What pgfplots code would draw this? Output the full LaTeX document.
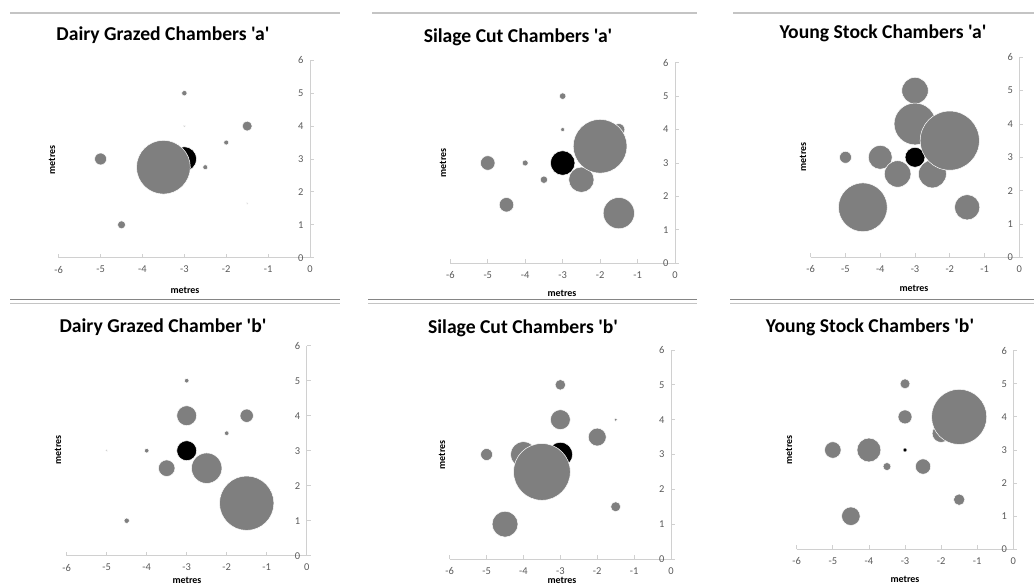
\documentclass[border=0pt]{standalone}
\usepackage{pgfplots}
\pgfplotsset{compat=1.18}
\usepackage{fontspec}
\setmainfont{Carlito}[Ligatures=TeXOff]
\definecolor{bub}{HTML}{7F7F7F}
\definecolor{axg}{HTML}{D0D0D0}
\definecolor{tkl}{HTML}{595959}
\definecolor{lnd}{HTML}{858585}
\definecolor{lnl}{HTML}{C4C4C4}
\pgfplotsset{
 bubax/.style={
  scale only axis, anchor=south west,
  xmin=-6, xmax=0, ymin=0, ymax=6,
  axis lines=middle,
  axis line style={draw=axg, line width=0.8pt, -},
  xtick={-6,-5,...,0}, ytick={0,1,...,6},
  tick style={draw=axg, line width=0.8pt},
  major tick length=4pt,
  tick align=inside,
  hide obscured x ticks=false, hide obscured y ticks=false,
  ticklabel style={font=\fontsize{10.5}{12}\selectfont, text=tkl},
  xticklabel style={yshift=-5pt},
  yticklabel style={xshift=-3pt},
  /pgf/number format/assume math mode=true,
  clip=false,
 },
 bubg/.style={scatter, only marks, mark=*, line width=0.5pt,
  scatter/use mapped color={draw=white, fill=bub},
  visualization depends on={\thisrow{r}\as\rad},
  scatter/@pre marker code/.append style={/tikz/mark size=\rad}},
 bubk/.style={scatter, only marks, mark=*, line width=0.5pt,
  scatter/use mapped color={draw=white, fill=black},
  visualization depends on={\thisrow{r}\as\rad},
  scatter/@pre marker code/.append style={/tikz/mark size=\rad}},
}
\newcommand{\ttl}{\fontsize{19.7}{22}\selectfont\bfseries}
\newcommand{\lbl}{\fontsize{10}{12}\selectfont\bfseries}
\begin{document}
\begin{tikzpicture}[x=1bp,y=1bp]
\path[use as bounding box] (0,0) rectangle (1034,585);
% separator lines
\draw[lnl, line width=1.2pt] (10,572) -- (340,572) (372,572) -- (697,572) (733,572) -- (1034,572);
\draw[lnd, line width=1pt] (10,285) -- (340,285) (368,285) -- (697,285) (730,285) -- (1034,285);
\draw[lnl, line width=1pt] (10,281.7) -- (340,281.7) (368,281.7) -- (697,281.7) (730,281.7) -- (1034,281.7);

% Panel 1
\begin{axis}[bubax, at={(58.7bp,327.3bp)}, width=251.3bp, height=197.4bp]
\addplot[bubk] table {
x y r
-3 3 12.3
};
\addplot[bubg] table {
x y r
-1.5 1.65 0.9
-3 4 1
-2.5 2.75 2.5
-2 3.5 2.5
-3 5 2.7
-4.5 1 4
-1.5 4 5
-5 3 6
-3.5 2.75 27
};
\end{axis}
% Panel 2
\begin{axis}[bubax, at={(450.3bp,321.7bp)}, width=224.7bp, height=200.6bp]
\addplot[bubk] table {
x y r
-3 3 12.3
};
\addplot[bubg] table {
x y r
-3 4 2
-4 3 3
-3 5 3.3
-3.5 2.5 3.7
-1.5 4 6
-4.5 1.75 7.3
-5 3 7.3
-2.5 2.5 12.7
-1.5 1.5 15.7
-2 3.5 27
};
\end{axis}
% Panel 3
\begin{axis}[bubax, at={(810.7bp,327.7bp)}, width=208.6bp, height=200bp]
\addplot[bubk] table {
x y r
-3 3 10
};
\addplot[bubg] table {
x y r
-5 3 6
-4 3 12
-1.5 1.5 12.7
-3.5 2.5 13.3
-3 5 13.3
-2.5 2.5 14
-3 4 21
-4.5 1.5 24.5
-2 3.5 29.7
};
\end{axis}
% Panel 4
\begin{axis}[bubax, at={(66.7bp,29.3bp)}, width=240bp, height=210bp]
\addplot[bubk] table {
x y r
-3 3 10
};
\addplot[bubg] table {
x y r
-5 3 1
-4 3 2.3
-2 3.5 2.3
-3 5 2.3
-4.5 1 2.7
-1.5 4 6.7
-3.5 2.5 8.3
-3 4 10
-2.5 2.5 15.3
-1.5 1.5 27.3
};
\end{axis}
% Panel 5
\begin{axis}[bubax, at={(449.7bp,26bp)}, width=221.3bp, height=209bp]
\addplot[bubk] table {
x y r
-3 3 12.3
};
\addplot[bubg] table {
x y r
-1.5 4 1.7
-1.5 1.5 5
-3 5 5.3
-5 3 6
-2 3.5 9
-3 4 10
-4.5 1 13
-4 3 13
-3.5 2.5 28.5
};
\end{axis}
% Panel 6
\begin{axis}[bubax, at={(796.7bp,35.7bp)}, width=216.6bp, height=198.6bp]
\addplot[bubk] table {
x y r
-3 3 2
};
\addplot[bubg] table {
x y r
-3.5 2.5 4
-3 5 5
-1.5 1.5 5.7
-3 4 7
-2.5 2.5 7.7
-5 3 8.3
-2 3.5 9
-4.5 1 9.3
-4 3 12
-1.5 4 27.7
};
\end{axis}

% titles
\node[font=\ttl] at (163,550) {Dairy Grazed Chambers 'a'};
\node[font=\ttl] at (518,548) {Silage Cut Chambers 'a'};
\node[font=\ttl] at (883,552) {Young Stock Chambers 'a'};
\node[font=\ttl] at (163,258) {Dairy Grazed Chamber 'b'};
\node[font=\ttl] at (523,257) {Silage Cut Chambers 'b'};
\node[font=\ttl] at (870,258) {Young Stock Chambers 'b'};
% y labels
\node[font=\lbl, rotate=90] at (52,425) {metres};
\node[font=\lbl, rotate=90] at (443,422) {metres};
\node[font=\lbl, rotate=90] at (803,428) {metres};
\node[font=\lbl, rotate=90] at (58,135) {metres};
\node[font=\lbl, rotate=90] at (442,130) {metres};
\node[font=\lbl, rotate=90] at (789,135) {metres};
% x labels
\node[font=\lbl] at (185,295) {metres};
\node[font=\lbl] at (562,292) {metres};
\node[font=\lbl] at (914,297) {metres};
\node[font=\lbl] at (187,5) {metres};
\node[font=\lbl] at (562,5) {metres};
\node[font=\lbl] at (905,6) {metres};
\end{tikzpicture}
\end{document}
